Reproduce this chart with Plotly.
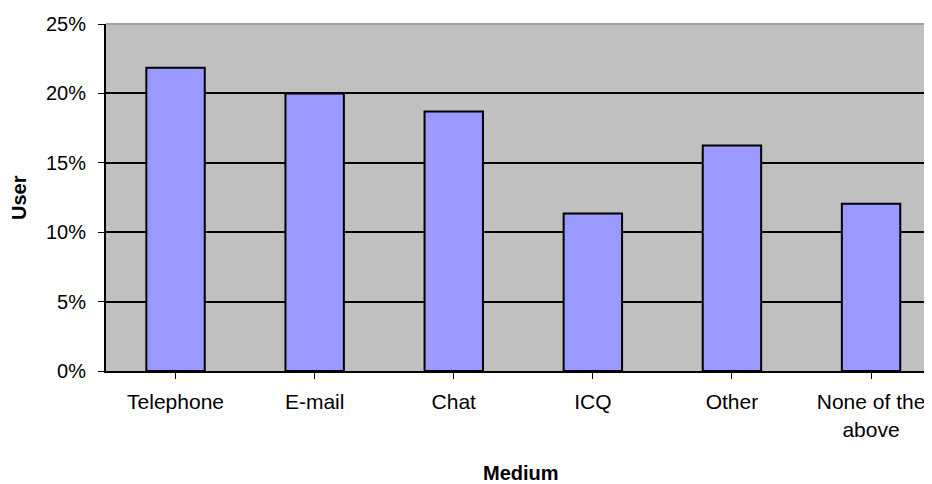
import plotly.graph_objects as go

categories = ["Telephone", "E-mail", "Chat", "ICQ", "Other", "None of the<br>above"]
values = [21.85, 20.0, 18.7, 11.35, 16.25, 12.05]
y_ticks = [0, 5, 10, 15, 20, 25]
y_tick_labels = ["0%", "5%", "10%", "15%", "20%", "25%"]

# page body has an 8px margin, so the figure is sized to the visible area
W, H = 924, 476
L, R, T, B = 98, 0, 16, 113
font_family = "Liberation Sans, Arial, sans-serif"

fig = go.Figure()
fig.add_trace(go.Bar(
    x=list(range(len(categories))),
    y=values,
    width=0.42,
    marker=dict(color="#9999FF", line=dict(color="#000000", width=2)),
    hoverinfo="skip",
))

plot_w = W - L - R
plot_h = H - T - B
cat_w = 139.1
x_end = -0.5 + plot_w / cat_w

fig.update_layout(
    width=W, height=H,
    margin=dict(l=L, r=R, t=T, b=B, pad=0),
    paper_bgcolor="#FFFFFF",
    plot_bgcolor="#C0C0C0",
    showlegend=False,
    font=dict(family=font_family, size=20, color="#000000"),
    xaxis=dict(
        range=[-0.5, x_end],
        tickmode="array",
        tickvals=list(range(len(categories))),
        ticktext=categories,
        ticks="outside", ticklen=6, tickcolor="#000000", tickwidth=1,
        tickson="boundaries",
        showgrid=False, zeroline=False,
        showline=True, linecolor="#000000", linewidth=2,
        tickfont=dict(size=21),
        ticklabelstandoff=5,
    ),
    yaxis=dict(
        range=[0, 25],
        tickmode="array",
        tickvals=y_ticks,
        ticktext=y_tick_labels,
        ticks="outside", ticklen=6, tickcolor="#000000", tickwidth=1,
        showgrid=True, gridcolor="#000000", gridwidth=1.5,
        zeroline=False,
        showline=True, linecolor="#000000", linewidth=2,
        tickfont=dict(size=20),
        ticklabelstandoff=8,
    ),
    shapes=[dict(type="line", xref="paper", yref="paper", x0=0, x1=1, y0=1, y1=1,
                 line=dict(color="#A0A0A0", width=2))],
    annotations=[
        dict(text="<b>User</b>", xref="paper", yref="paper",
             x=(11 - L) / plot_w, y=(T + plot_h - 190) / plot_h,
             xanchor="center", yanchor="middle", textangle=-90, showarrow=False,
             font=dict(size=20, family=font_family)),
        dict(text="<b>Medium</b>", xref="paper", yref="paper",
             x=(513 - L) / plot_w, y=(T + plot_h - 465) / plot_h,
             xanchor="center", yanchor="middle", showarrow=False,
             font=dict(size=20, family=font_family)),
    ],
)

fig.write_html("out.html")
